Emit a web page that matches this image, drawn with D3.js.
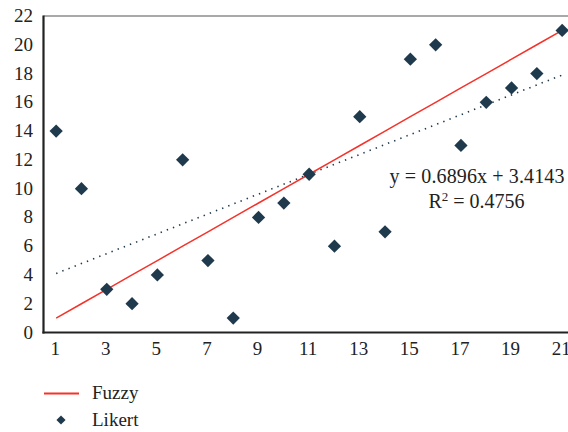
<!DOCTYPE html>
<html><head><meta charset="utf-8">
<script src="https://cdn.jsdelivr.net/npm/d3@7"></script>
<style>body{margin:0;background:#fff}svg{display:block}</style>
</head><body><svg id="c" width="568" height="432" font-family="'Liberation Serif', 'DejaVu Serif', 'Times New Roman', Times, serif"></svg>
<script>
const xValues = [1,2,3,4,5,6,7,8,9,10,11,12,13,14,15,16,17,18,19,20,21];
const likert = [14,10,3,2,4,12,5,1,8,9,11,6,15,7,19,20,13,16,17,18,21];
const fuzzy = [1,2,3,4,5,6,7,8,9,10,11,12,13,14,15,16,17,18,19,20,21];
const xTicks = [1,3,5,7,9,11,13,15,17,19,21];
const yTicks = [0,2,4,6,8,10,12,14,16,18,20,22];
const trend = {slope:0.6896, intercept:3.4143, r2:"0.4756"};
const eqText = "y = 0.6896x + 3.4143";

const svg = d3.select("#c");
const x = d3.scaleLinear().domain([0.5,21.5]).range([43.5,43.5+21*25.3]);
const y = d3.scaleLinear().domain([0,22]).range([332.5,16]);
const navy = "#1f3a4d", red = "#f5322a", ink = "#222";

svg.append("line").attr("x1",43.5).attr("x2",568).attr("y1",y(22)).attr("y2",y(22))
  .attr("stroke","#555").attr("stroke-width",1.2);

svg.selectAll(".yt").data(yTicks).join("text")
  .attr("x",33).attr("y",d=>y(d)+6).attr("text-anchor","end").attr("fill",ink)
  .attr("font-size",19).text(d=>d);
svg.selectAll(".xt").data(xTicks).join("text")
  .attr("x",d=>x(d)-1).attr("y",355).attr("text-anchor","middle").attr("fill",ink)
  .attr("font-size",19).text(d=>d);

svg.append("line")
  .attr("x1",x(1)).attr("y1",y(trend.slope*1+trend.intercept))
  .attr("x2",x(21)).attr("y2",y(trend.slope*21+trend.intercept))
  .attr("stroke",navy).attr("stroke-width",1.6).attr("stroke-dasharray","1.4,5.2");

svg.append("path").datum(xValues.map((d,i)=>[d,fuzzy[i]]))
  .attr("d",d3.line().x(d=>x(d[0])).y(d=>y(d[1])))
  .attr("fill","none").attr("stroke",red).attr("stroke-width",1.5);

svg.append("line").attr("x1",43.5).attr("x2",43.5).attr("y1",y(22)-0.5).attr("y2",333.5)
  .attr("stroke",ink).attr("stroke-width",2.2);
svg.append("line").attr("x1",42.4).attr("x2",568).attr("y1",332.5).attr("y2",332.5)
  .attr("stroke",ink).attr("stroke-width",2.2);

const diamond = d3.symbol().type(d3.symbolSquare).size(88);
svg.selectAll(".pt").data(xValues.map((d,i)=>[d,likert[i]])).join("path")
  .attr("d",diamond)
  .attr("transform",d=>`translate(${x(d[0])},${y(d[1])}) rotate(45)`)
  .attr("fill",navy);

svg.append("text").attr("x",477).attr("y",183).attr("text-anchor","middle").attr("fill",ink)
  .attr("font-size",20).attr("textLength",175).attr("lengthAdjust","spacing").text(eqText);
const r = svg.append("text").attr("x",476.5).attr("y",207.5).attr("text-anchor","middle").attr("font-size",20).attr("fill",ink);
r.append("tspan").text("R");
r.append("tspan").attr("font-size",13).attr("dy",-7).text("2");
r.append("tspan").attr("dy",7).text(" = " + trend.r2);

svg.append("line").attr("x1",44).attr("x2",79).attr("y1",393.5).attr("y2",393.5)
  .attr("stroke",red).attr("stroke-width",1.8);
svg.append("text").attr("x",92).attr("y",399).attr("font-size",19).attr("fill",ink).text("Fuzzy");
svg.append("path").attr("d",d3.symbol().type(d3.symbolSquare).size(42))
  .attr("transform","translate(61,420) rotate(45)").attr("fill",navy);
svg.append("text").attr("x",92).attr("y",425.5).attr("font-size",19).attr("fill",ink).text("Likert");
</script></body></html>
